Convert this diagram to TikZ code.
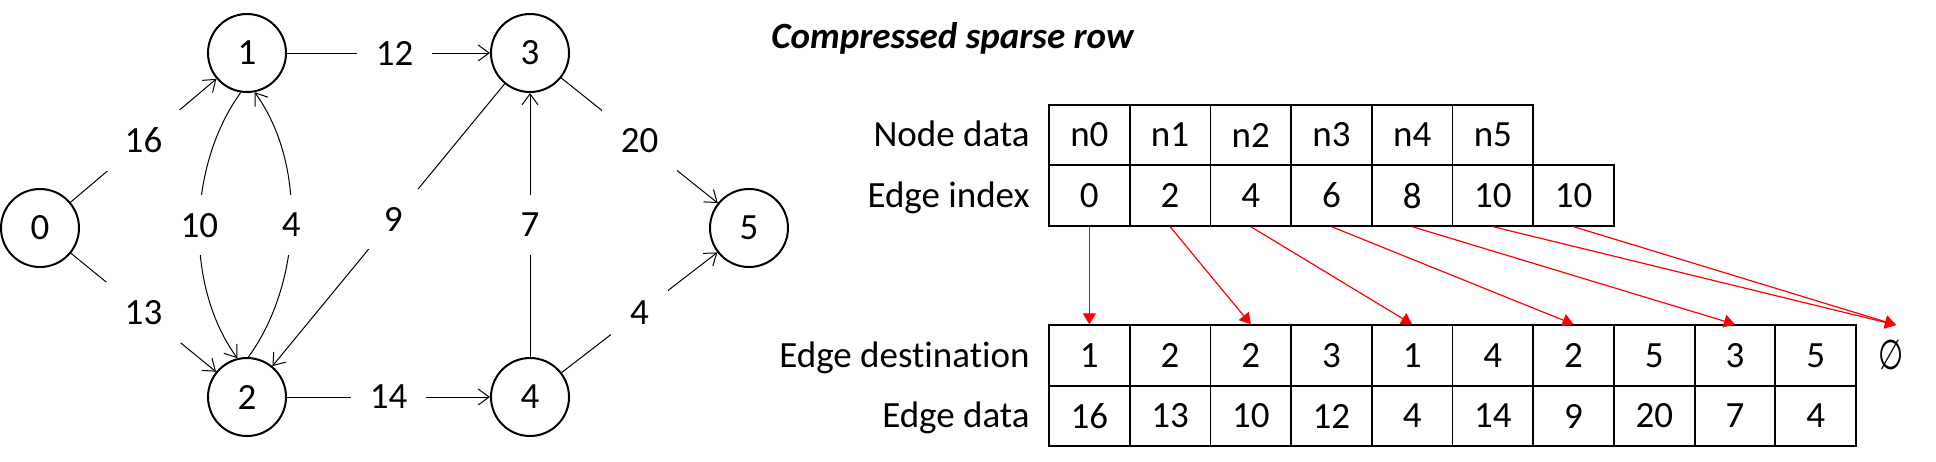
\documentclass[tikz,border=0pt]{standalone}
\usepackage{fontspec}
\usepackage{graphicx}
\setmainfont[Ligatures=NoCommon]{Carlito}
\newfontfamily\djvfont{DejaVu Sans}
\usetikzlibrary{arrows.meta}
\newcommand\myfs{\fontsize{18.5pt}{22pt}\selectfont}
\begin{document}
\begin{tikzpicture}[x=0.5pt,y=-0.5pt,
  vtx/.style={circle, draw, line width=1pt, minimum size=39pt, inner sep=0pt, font=\myfs},
  lbl/.style={fill=white, inner xsep=9.5pt, inner ysep=9pt, font=\myfs},
  gedge/.style={line width=0.5pt, -{Straight Barb[length=5.5pt,width=8pt]}},
  cell/.style={draw, line width=0.9pt, minimum width=40.35pt, minimum height=30.25pt, inner sep=0pt, font=\myfs},
  rowlbl/.style={anchor=base east, inner sep=0pt, font=\myfs},
  redarr/.style={red, line width=0.6pt, -{Triangle[length=5.5pt,width=6.5pt]}}
]
\useasboundingbox (0,0) rectangle (1936,461);

% graph
\node[vtx] (v0) at (40,228) {0};
\node[vtx] (v1) at (247,53) {1};
\node[vtx] (v2) at (247,397) {2};
\node[vtx] (v3) at (530,53) {3};
\node[vtx] (v4) at (530,397) {4};
\node[vtx] (v5) at (749,228) {5};

\draw[gedge] (v0) -- node[lbl]{16} (v1);
\draw[gedge] (v0) -- node[lbl]{13} (v2);
\draw[gedge] (v1) -- node[lbl,pos=0.53]{12} (v3);
\draw[gedge] (v2) -- node[lbl]{14} (v4);
\draw[gedge] (v3) -- node[lbl,pos=0.48]{9} (v2);
\draw[gedge] (v4) -- node[lbl]{7} (v3);
\draw[gedge] (v3) -- node[lbl]{20} (v5);
\draw[gedge] (v4) -- node[lbl]{4} (v5);
\draw[gedge] (v1.261.5) .. controls +(-53,73) and +(-53,-73) .. node[lbl]{10} (v2.104.7);
\draw[gedge] (v2.88.5) .. controls +(53,-73) and +(53,73) .. node[lbl]{4} (v1.281);

% CSR
\node[anchor=base west, inner sep=0pt, font=\myfs\bfseries\itshape] (title) at (771,48) {Compressed sparse row};

\node[rowlbl] (lnode) at (1030,146.5) {Node data};
\node[rowlbl] (lidx) at (1030,207) {Edge index};
\node[rowlbl] (ldst) at (1030,367) {Edge destination};
\node[rowlbl] (ldat) at (1030,427.5) {Edge data};

\foreach \t [count=\i from 0] in {n0,n1,n2,n3,n4,n5}
  \node[cell] (n\i) at ({1089.35+80.7*\i},135) {\t};
\foreach \t [count=\i from 0] in {0,2,4,6,8,10,10}
  \node[cell] (i\i) at ({1089.35+80.7*\i},195.5) {\t};
\foreach \t [count=\i from 0] in {1,2,2,3,1,4,2,5,3,5}
  \node[cell] (d\i) at ({1089.35+80.7*\i},355.5) {\t};
\foreach \t [count=\i from 0] in {16,13,10,12,4,14,9,20,7,4}
  \node[cell] (e\i) at ({1089.35+80.7*\i},416) {\t};

\node[inner sep=0pt, font=\myfs\djvfont] (nul) at (1891,355) {\scalebox{0.78}[1.12]{∅}};
\coordinate (nulin) at (1896,325);

\draw[redarr] (i0.south) -- (d0.north);
\draw[redarr] (i1.south) -- (d2.north);
\draw[redarr] (i2.south) -- (d4.north);
\draw[redarr] (i3.south) -- (d6.north);
\draw[redarr] (i4.south) -- (d8.north);
\draw[redarr] (i5.south) -- (nulin);
\draw[redarr] (i6.south) -- (nulin);
\end{tikzpicture}
\end{document}
